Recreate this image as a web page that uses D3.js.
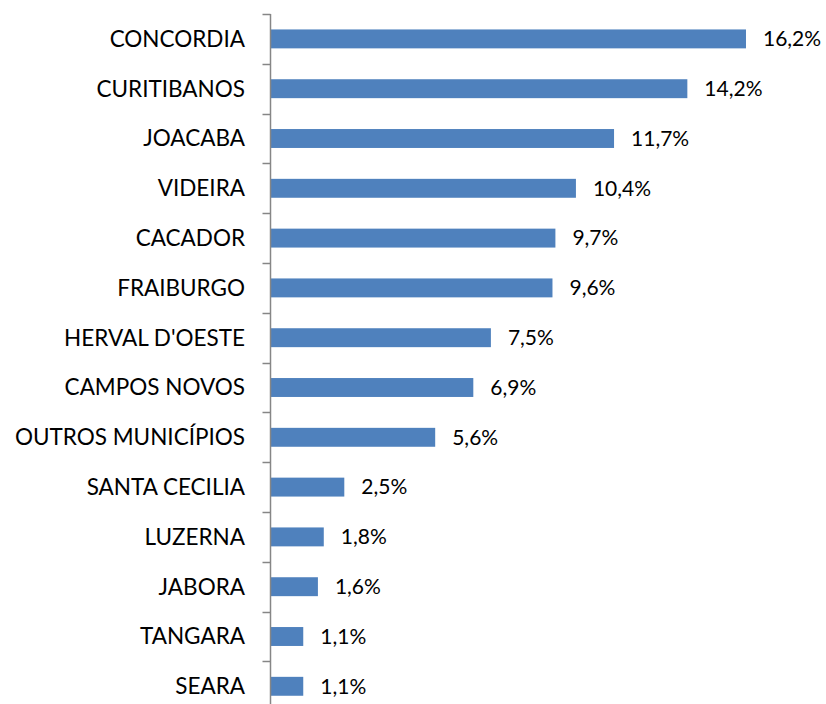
<!DOCTYPE html>
<html lang="pt">
<head>
  <meta charset="UTF-8">
  <title>Municípios</title>
  <script src="https://d3js.org/d3.v7.min.js"></script>
  <style>
    body { margin: 0; background: #fff; }
    text { font-family: Lato, "Open Sans", sans-serif; fill: #000; }
  </style>
</head>
<body>
  <svg id="chart" width="826" height="704"></svg>
  <script>
    const categories = ['CONCORDIA', 'CURITIBANOS', 'JOACABA', 'VIDEIRA', 'CACADOR', 'FRAIBURGO',
      "HERVAL D'OESTE", 'CAMPOS NOVOS', 'OUTROS MUNICÍPIOS', 'SANTA CECILIA', 'LUZERNA', 'JABORA',
      'TANGARA', 'SEARA'];
    const values = [16.2, 14.2, 11.7, 10.4, 9.7, 9.6, 7.5, 6.9, 5.6, 2.5, 1.8, 1.6, 1.1, 1.1];
    const valueLabels = ['16,2%', '14,2%', '11,7%', '10,4%', '9,7%', '9,6%', '7,5%', '6,9%', '5,6%',
      '2,5%', '1,8%', '1,6%', '1,1%', '1,1%'];

    const svg = d3.select('#chart');
    const axisX = 270.5;

    const x = d3.scaleLinear().domain([0, 18]).range([axisX + 0.5, axisX + 0.5 + 18 * 29.32]);
    const y = d3.scaleBand().domain(categories).range([14, 14 + 14 * 49.8]).paddingInner(0.62).paddingOuter(0.31);

    // bars
    svg.selectAll('.bar')
      .data(values)
      .enter()
      .append('rect')
      .attr('class', 'bar')
      .attr('x', x(0))
      .attr('y', (d, i) => y(categories[i]))
      .attr('width', d => x(d) - x(0))
      .attr('height', y.bandwidth())
      .attr('fill', '#4f81bd');

    // axis line and ticks between categories
    const step = y.step();
    svg.append('line')
      .attr('x1', axisX).attr('x2', axisX)
      .attr('y1', 14).attr('y2', 14 + 14 * step)
      .attr('stroke', '#868686').attr('stroke-width', 1.5);

    svg.selectAll('.tick')
      .data(d3.range(15))
      .enter()
      .append('line')
      .attr('x1', axisX - 8).attr('x2', axisX)
      .attr('y1', i => Math.round(14 + i * step) + 0.5)
      .attr('y2', i => Math.round(14 + i * step) + 0.5)
      .attr('stroke', '#868686').attr('stroke-width', 1.5);

    // category labels
    svg.selectAll('.cat')
      .data(categories)
      .enter()
      .append('text')
      .attr('class', 'cat')
      .attr('x', 245)
      .attr('y', d => y(d) + y.bandwidth() / 2)
      .attr('dy', '0.35em')
      .attr('text-anchor', 'end')
      .attr('font-size', '22.5px')
      .text(d => d);

    // value labels
    svg.selectAll('.val')
      .data(values)
      .enter()
      .append('text')
      .attr('class', 'val')
      .attr('x', d => x(d) + 17)
      .attr('y', (d, i) => y(categories[i]) + y.bandwidth() / 2)
      .attr('dy', '0.35em')
      .attr('font-size', '21px')
      .text((d, i) => valueLabels[i]);
  </script>
</body>
</html>
